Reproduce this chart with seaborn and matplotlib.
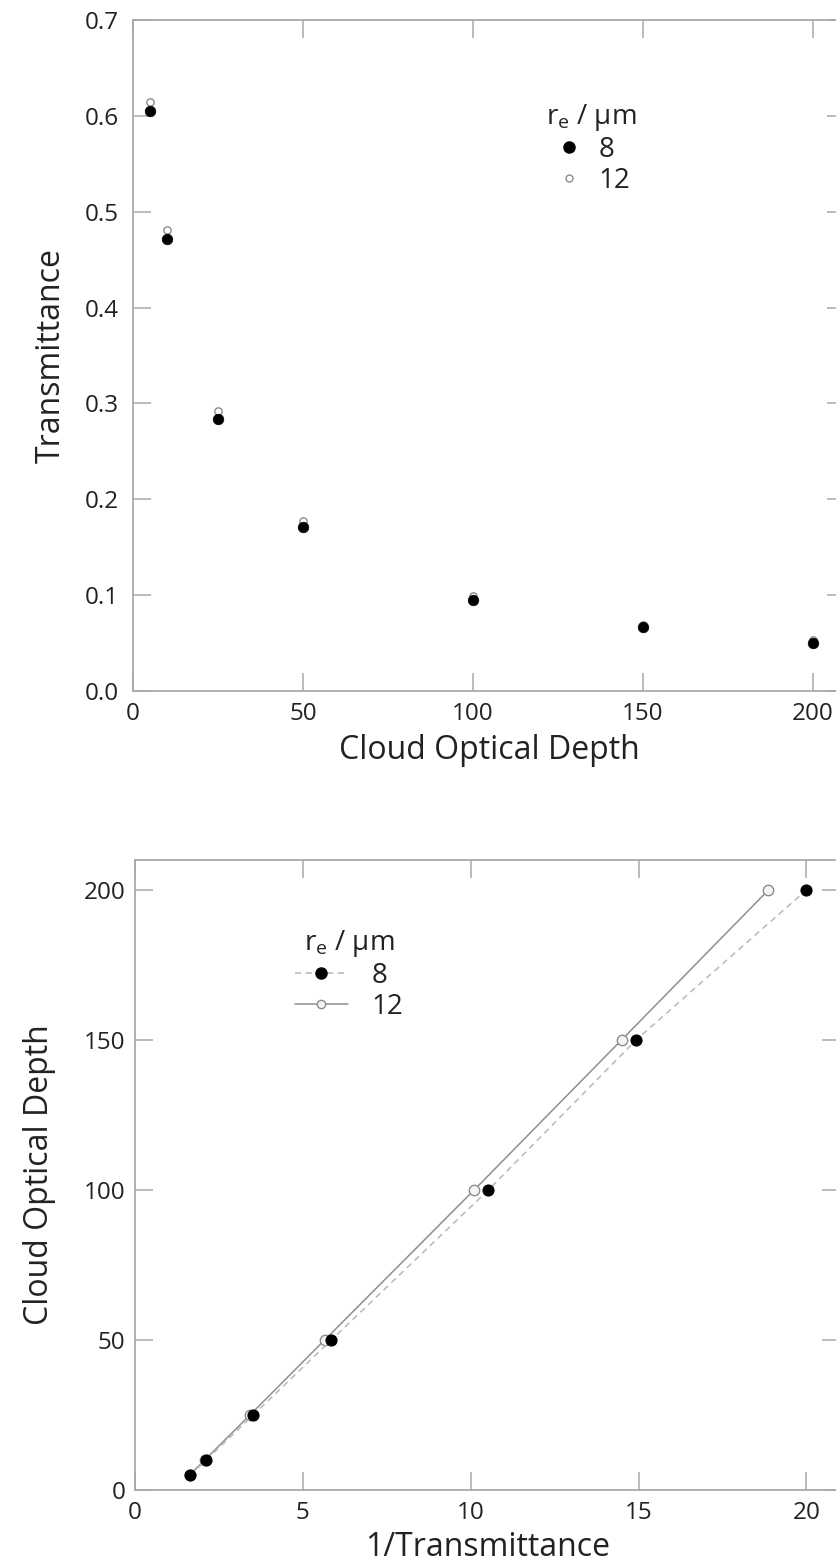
import numpy as np
import pandas as pd
import matplotlib
matplotlib.use("Agg")
import matplotlib.pyplot as plt
from matplotlib.lines import Line2D
import seaborn as sns

# Cloud optical depth and modelled transmittance for two droplet effective radii
optical_depth = [5, 10, 25, 50, 100, 150, 200]
trans_re8 = [0.605, 0.472, 0.284, 0.171, 0.095, 0.067, 0.050]
trans_re12 = [0.614, 0.481, 0.292, 0.177, 0.099, 0.069, 0.053]
radius_labels = ["8", "12"]

top_xticks = [0, 50, 100, 150, 200]
top_yticks = [0.0, 0.1, 0.2, 0.3, 0.4, 0.5, 0.6, 0.7]
bot_xticks = [0, 5, 10, 15, 20]
bot_yticks = [0, 50, 100, 150, 200]

df = pd.DataFrame({
    "tau": optical_depth * 2,
    "T": trans_re8 + trans_re12,
    "re": [radius_labels[0]] * len(optical_depth) + [radius_labels[1]] * len(optical_depth),
})
df["invT"] = 1.0 / df["T"]

sns.set_theme(style="white")
plt.rcParams["font.family"] = ["Open Sans", "DejaVu Sans"]
plt.rcParams["mathtext.fontset"] = "custom"
plt.rcParams["mathtext.rm"] = "Open Sans"
plt.rcParams["mathtext.it"] = "Open Sans"

W, H = 837, 1566
fig = plt.figure(figsize=(W / 100, H / 100), dpi=100)
fig.patch.set_facecolor("white")

ax1 = fig.add_axes([133 / W, 1 - 691 / H, (845 - 133) / W, (691 - 20) / H])
ax2 = fig.add_axes([135 / W, 1 - 1490 / H, (840 - 135) / W, (1490 - 860) / H])

SPINE = "#a9a9a9"
TXT = "#222222"
FILLED = "black"
OPEN_EDGE = "#8c8c8c"
LABEL_SIZE = 23
TICK_SIZE = 17.5
LEG_SIZE = 20

d8 = df[df["re"] == "8"]
d12 = df[df["re"] == "12"]

# Top panel: transmittance versus optical depth
sns.scatterplot(data=d12, x="tau", y="T", ax=ax1, marker="o", s=28,
                color="white", edgecolor=OPEN_EDGE, linewidth=1.0, zorder=3, legend=False)
sns.scatterplot(data=d8, x="tau", y="T", ax=ax1, marker="o", s=58,
                color=FILLED, edgecolor=FILLED, linewidth=0.5, zorder=4, legend=False)
ax1.set_xlim(0, 209.5)
ax1.set_ylim(0, 0.7)
ax1.set_xticks(top_xticks)
ax1.set_yticks(top_yticks)
ax1.set_yticklabels([f"{v:.1f}" for v in top_yticks])
ax1.set_xlabel("Cloud Optical Depth", fontsize=LABEL_SIZE, color=TXT, labelpad=6)
ax1.set_ylabel("Transmittance", fontsize=LABEL_SIZE, color=TXT, labelpad=12)

# Bottom panel: optical depth versus inverse transmittance
sns.lineplot(data=d8, x="invT", y="tau", ax=ax2, sort=False, estimator=None,
             color="#b8b8b8", linewidth=1.1, dashes=False, linestyle=(0, (4, 3)),
             marker="o", markersize=8, markerfacecolor=FILLED, markeredgecolor=FILLED,
             zorder=3, legend=False)
sns.lineplot(data=d12, x="invT", y="tau", ax=ax2, sort=False, estimator=None,
             color="#8f8f8f", linewidth=1.1, marker="o", markersize=7.5,
             markerfacecolor="#f4f4f4", markeredgecolor=OPEN_EDGE, markeredgewidth=1.0,
             zorder=2, legend=False)
ax2.set_xlim(0, 21)
ax2.set_ylim(0, 210)
ax2.set_xticks(bot_xticks)
ax2.set_yticks(bot_yticks)
ax2.set_xlabel("1/Transmittance", fontsize=LABEL_SIZE, color=TXT, labelpad=4)
ax2.set_ylabel("Cloud Optical Depth", fontsize=LABEL_SIZE, color=TXT, labelpad=20)

for ax, ypad in ((ax1, 10), (ax2, 7)):
    for s in ax.spines.values():
        s.set_color(SPINE)
        s.set_linewidth(1.3)
        s.set_visible(True)
    ax.tick_params(axis="both", which="major", direction="in", length=13, width=1.1,
                   color=SPINE, labelsize=TICK_SIZE, labelcolor=TXT,
                   top=True, right=True, bottom=True, left=True)
    ax.tick_params(axis="y", pad=ypad)
    ax.tick_params(axis="x", pad=8)
    ax.set_facecolor("white")
    ax.grid(False)

title = r"r$_{\rm e}$ / µm"

h8_top = Line2D([], [], linestyle="none", marker="o", markersize=8,
                markerfacecolor=FILLED, markeredgecolor=FILLED)
h12_top = Line2D([], [], linestyle="none", marker="o", markersize=5,
                 markerfacecolor="white", markeredgecolor=OPEN_EDGE, markeredgewidth=1.0)
leg1 = ax1.legend([h8_top, h12_top], radius_labels, title=title, frameon=False,
                  loc="upper left", bbox_to_anchor=(546 / W, 1 - 102 / H),
                  bbox_transform=fig.transFigure, fontsize=LEG_SIZE, title_fontsize=LEG_SIZE,
                  handlelength=1.2, handletextpad=0.45, labelspacing=0.1, borderpad=0,
                  borderaxespad=0)
for t in leg1.get_texts():
    t.set_color(TXT)
leg1.get_title().set_color(TXT)

h8_bot = Line2D([], [], color="#b8b8b8", linewidth=1.1, linestyle=(0, (4, 3)),
                marker="o", markersize=8, markerfacecolor=FILLED, markeredgecolor=FILLED)
h12_bot = Line2D([], [], color="#8f8f8f", linewidth=1.1,
                 marker="o", markersize=6, markerfacecolor="#f4f4f4",
                 markeredgecolor=OPEN_EDGE)
leg2 = ax2.legend([h8_bot, h12_bot], radius_labels, title=title, frameon=False,
                  loc="upper left", bbox_to_anchor=(295 / W, 1 - 928 / H),
                  bbox_transform=fig.transFigure, fontsize=LEG_SIZE, title_fontsize=LEG_SIZE,
                  handlelength=1.9, handletextpad=0.85, labelspacing=0.1, borderpad=0,
                  borderaxespad=0)
for t in leg2.get_texts():
    t.set_color(TXT)
leg2.get_title().set_color(TXT)

fig.savefig("out.png", dpi=100, facecolor="white")
